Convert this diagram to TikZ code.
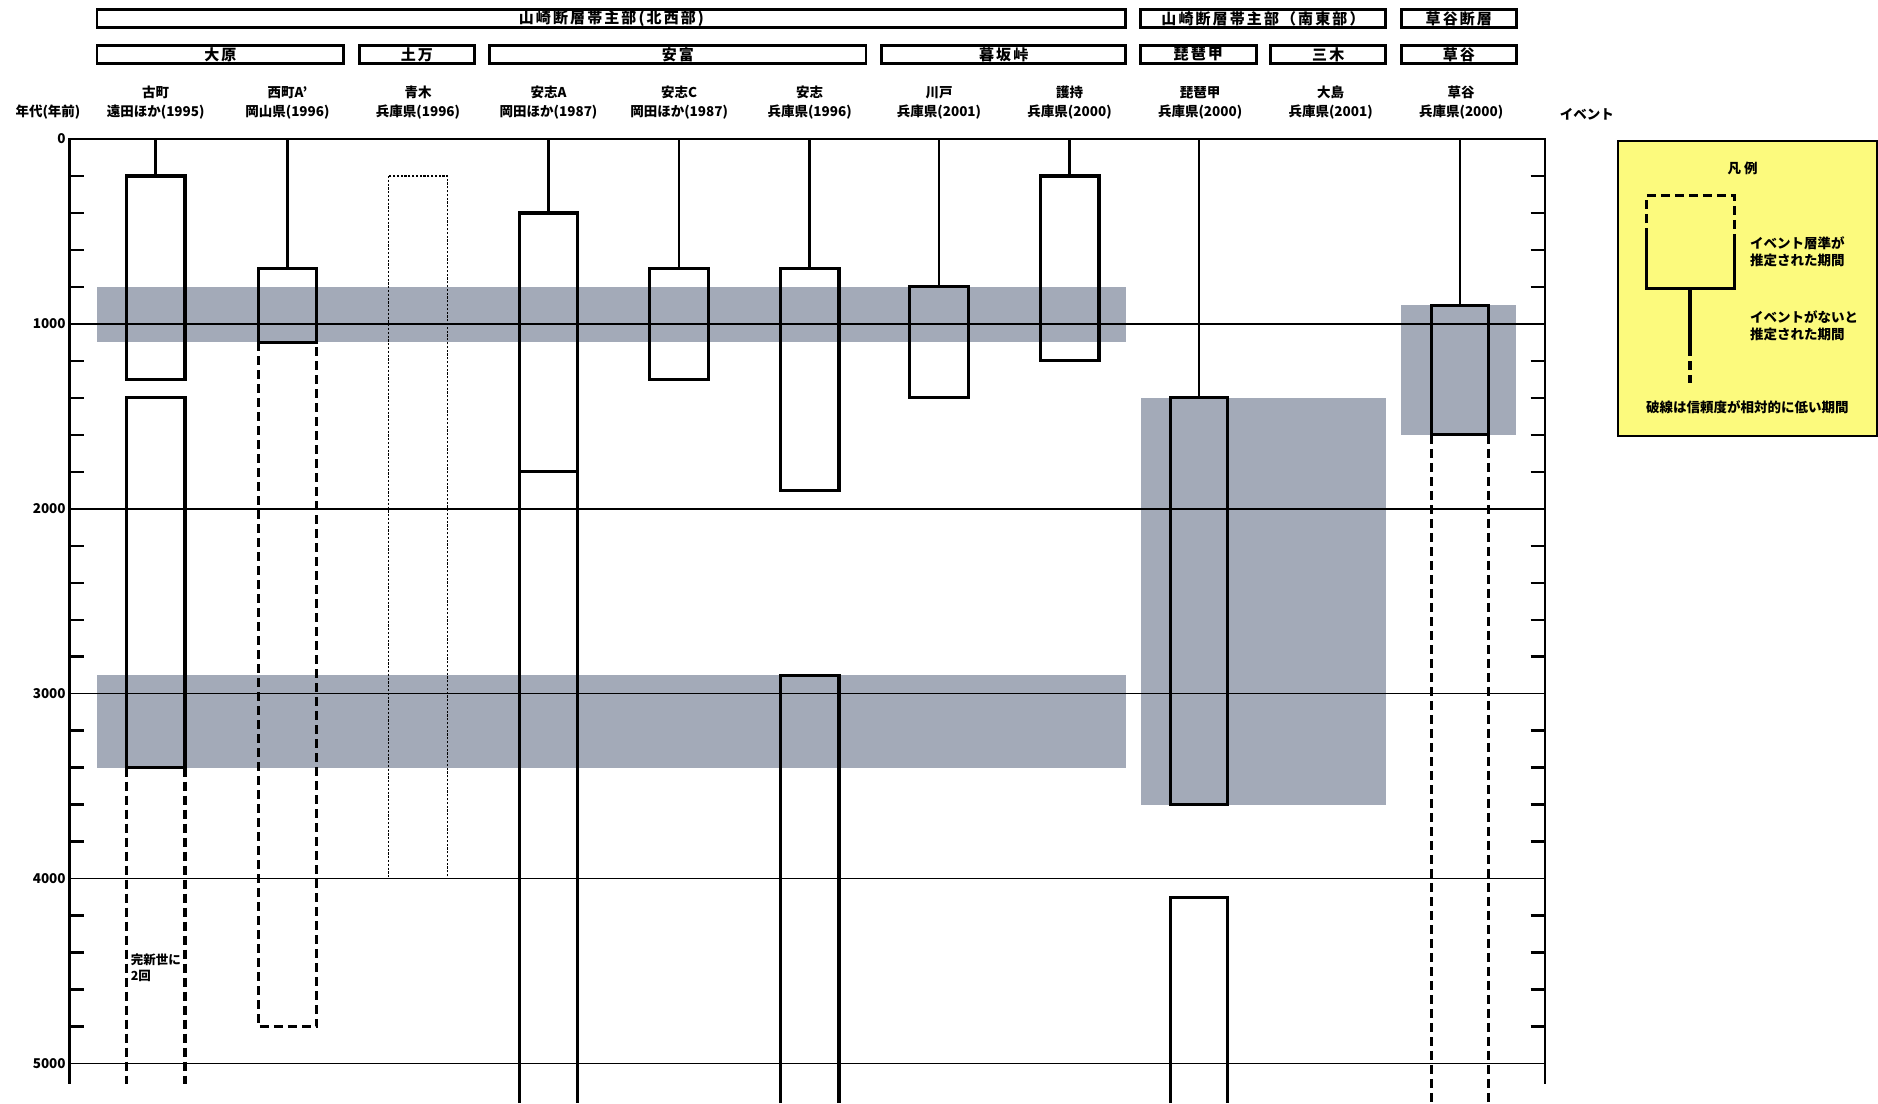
\documentclass[tikz,border=0pt]{standalone}
\usepackage{fontspec}
\setmainfont{Noto Sans CJK JP}
\definecolor{bandc}{RGB}{163,170,184}
\definecolor{legy}{RGB}{252,250,125}
\begin{document}
\begin{tikzpicture}[x=1.1977pt,y=-1.1977pt,
  declare function={Y(\a)=116+0.1544*\a;},
  evbox/.style={line width=3.2pt},
  evdash/.style={line width=3.2pt,dash pattern=on 9pt off 5pt},
  evstem/.style={line width=2.6pt},
  dotbox/.style={line width=1.5pt,dash pattern=on 2.2pt off 1.6pt},
  hdrbox/.style={line width=2.8pt},
  hdrtxt/.style={font=\fontsize{15}{17}\selectfont\bfseries\addfontfeatures{LetterSpace=14},inner sep=0pt},
  lbl/.style={font=\fontsize{13.5}{19}\selectfont\bfseries,align=center,inner sep=0pt},
  axlbl/.style={font=\fontsize{13.5}{15}\selectfont\bfseries,anchor=east,inner sep=0pt},
  legtxt/.style={font=\fontsize{13.5}{17}\selectfont\bfseries,align=left,anchor=west,inner sep=0pt},
  gridl/.style={line width=1.5pt},
  axisl/.style={line width=2.5pt}]
\useasboundingbox (0,0) rectangle (1568,921);
% ---- grey bands
\fill[bandc] (81,{Y(800)}) rectangle (940,{Y(1100)});
\fill[bandc] (81,{Y(2900)}) rectangle (940,{Y(3400)});
\fill[bandc] (953,{Y(1400)}) rectangle (1157,{Y(3600)});
\fill[bandc] (1170,{Y(900)}) rectangle (1266,{Y(1600)});
% ---- header boxes
\draw[hdrbox] (81,8) rectangle (940,23);
\node[hdrtxt] (hNW) at (510.5,15.5) {山崎断層帯主部(北西部)};
\draw[hdrbox] (952,8) rectangle (1157,23);
\node[hdrtxt] (hSE) at (1054.5,15.5) {山崎断層帯主部（南東部）};
\draw[hdrbox] (1170,8) rectangle (1266,23);
\node[hdrtxt] (hKT) at (1218,15.5) {草谷断層};
\foreach \xa/\xb/\t/\n in {81/287/大原/s1,300/396/土万/s2,409/723/安富/s3,736/940/暮坂峠/s4,952/1049/琵琶甲/s5,1061/1157/三木/s6,1170/1266/草谷/s7}{
  \draw[hdrbox] (\xa,38) rectangle (\xb,53);
  \node[hdrtxt] (\n) at ({(\xa+\xb)/2},45.5) {\t};
}
% ---- column labels
\foreach \x/\a/\b/\n in {130/古町/遠田ほか(1995)/c1,240/西町A'/岡山県(1996)/c2,349/青木/兵庫県(1996)/c3,458/安志A/岡田ほか(1987)/c4,567/安志C/岡田ほか(1987)/c5,676/安志/兵庫県(1996)/c6,784/川戸/兵庫県(2001)/c7,893/護持/兵庫県(2000)/c8,1002/琵琶甲/兵庫県(2000)/c9,1111/大島/兵庫県(2001)/c10,1220/草谷/兵庫県(2000)/c11}{
  \node[lbl] (\n) at (\x,86) {\a\\\b};
}
\node[lbl] (nen) at (40,94) {年代(年前)};
\node[lbl] (evt) at (1325,95) {イベント};
% ---- axes and grid
\foreach \t in {1000,2000,3000,4000,5000}{
  \draw[gridl] (58,{Y(\t)}) -- (1290,{Y(\t)});
}
\draw[axisl] (58,905) -- (58,116) -- (1290,116) -- (1290,905);
\foreach \t in {200,400,600,800,1200,1400,1600,1800,2200,2400,2600,2800,3200,3400,3600,3800,4200,4400,4600,4800}{
  \draw[axisl] (58,{Y(\t)}) -- (70,{Y(\t)});
  \draw[axisl] (1278,{Y(\t)}) -- (1290,{Y(\t)});
}
\foreach \t in {0,1000,2000,3000,4000,5000}{
  \node[axlbl] (ax\t) at (55,{Y(\t)}) {\t};
}
% ---- 古町
\draw[evstem] (130,116) -- (130,{Y(200)});
\draw[evbox] (105.5,{Y(200)}) rectangle (154.5,{Y(1300)});
\draw[evbox] (105.5,{Y(1400)}) rectangle (154.5,{Y(3400)});
\draw[evdash] (105.5,{Y(3400)}) -- (105.5,905);
\draw[evdash] (154.5,{Y(3400)}) -- (154.5,905);
\node[font=\fontsize{12.5}{16}\selectfont\bfseries,align=left,anchor=north west,inner sep=0pt] (kan) at (109,796) {完新世に\\2回};
% ---- 西町A'
\draw[evstem] (240,116) -- (240,{Y(700)});
\draw[evbox] (215.5,{Y(700)}) rectangle (264.5,{Y(1100)});
\draw[evdash] (215.5,{Y(1100)}) -- (215.5,{Y(4800)}) -- (264.5,{Y(4800)}) -- (264.5,{Y(1100)});
% ---- 青木
\draw[dotbox] (324.5,{Y(200)}) rectangle (373.5,{Y(4000)});
% ---- 安志A
\draw[evstem] (458,116) -- (458,{Y(400)});
\draw[evbox] (433.5,{Y(400)}) rectangle (482.5,{Y(1800)});
\draw[evbox] (433.5,{Y(1800)}) -- (433.5,921);
\draw[evbox] (482.5,{Y(1800)}) -- (482.5,921);
% ---- 安志C
\draw[evstem] (567,116) -- (567,{Y(700)});
\draw[evbox] (542.5,{Y(700)}) rectangle (591.5,{Y(1300)});
% ---- 安志
\draw[evstem] (676,116) -- (676,{Y(700)});
\draw[evbox] (651.5,{Y(700)}) rectangle (700.5,{Y(1900)});
\draw[evbox] (651.5,921) -- (651.5,{Y(2900)}) -- (700.5,{Y(2900)}) -- (700.5,921);
% ---- 川戸
\draw[evstem] (784,116) -- (784,{Y(800)});
\draw[evbox] (759.5,{Y(800)}) rectangle (808.5,{Y(1400)});
% ---- 護持
\draw[evstem] (893,116) -- (893,{Y(200)});
\draw[evbox] (868.5,{Y(200)}) rectangle (917.5,{Y(1200)});
% ---- 琵琶甲
\draw[evstem] (1001,116) -- (1001,{Y(1400)});
\draw[evbox] (977,{Y(1400)}) rectangle (1025,{Y(3600)});
\draw[evbox] (977,921) -- (977,{Y(4100)}) -- (1025,{Y(4100)}) -- (1025,921);
% ---- 草谷
\draw[evstem] (1219,116) -- (1219,{Y(900)});
\draw[evbox] (1195,{Y(900)}) rectangle (1243,{Y(1600)});
\draw[evdash] (1195,{Y(1600)}) -- (1195,921);
\draw[evdash] (1243,{Y(1600)}) -- (1243,921);
% ---- legend
\draw[fill=legy,line width=1.8pt] (1351,118) rectangle (1567,364);
\node[font=\fontsize{13.5}{15}\selectfont\bfseries,inner sep=0pt] (legt) at (1455,141) {凡\ 例};
\draw[evdash] (1375,198) -- (1375,163) -- (1448,163) -- (1448,198);
\draw[evbox] (1375,198) -- (1375,241) -- (1448,241) -- (1448,198);
\draw[evbox] (1411,241) -- (1411,290);
\draw[evdash] (1411,290) -- (1411,320);
\node[legtxt] (leg1) at (1461,210) {イベント層準が\\推定された期間};
\node[legtxt] (leg2) at (1461,272) {イベントがないと\\推定された期間};
\node[font=\fontsize{13.5}{15}\selectfont\bfseries,inner sep=0pt] (leg3) at (1459,340) {破線は信頼度が相対的に低い期間};
\end{tikzpicture}
\end{document}
